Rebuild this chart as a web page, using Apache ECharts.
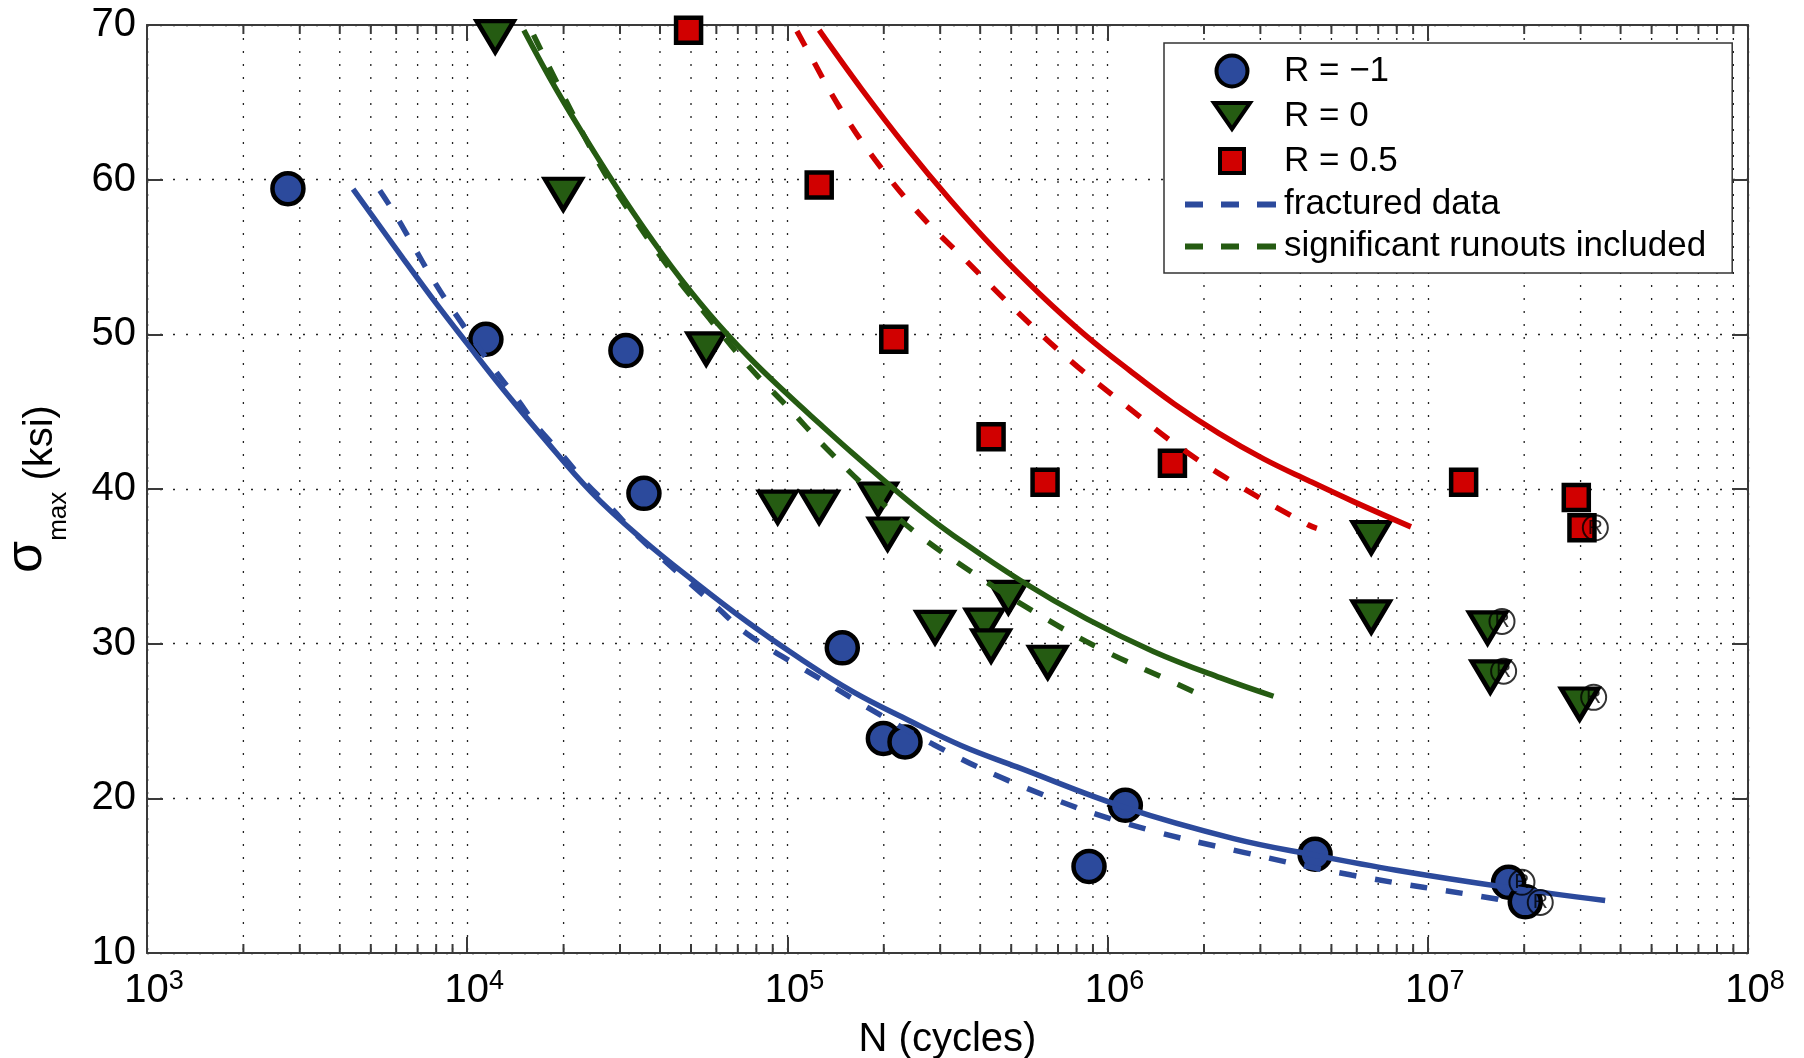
<!DOCTYPE html>
<html lang="en">
<head>
    <meta charset="UTF-8">
    <title>S-N curves</title>
    <script src="https://cdn.jsdelivr.net/npm/echarts@6/dist/echarts.min.js"></script>
    <style>
        *{
            margin: 0;
            padding: 0;
        }
        html,body{
            width: 100%;
            height: 100%;
            overflow: hidden;
            background: #fff;
        }
        .container{
            width: 1804px;
            height: 1058px;
        }
    </style>
</head>
<body>
<div class="container"></div>
<script>
    const FONT = 'Liberation Sans, Arial, Helvetica, sans-serif'

    // axis ranges
    const xMin = 1e3, xMax = 1e8
    const yTicks = [10, 20, 30, 40, 50, 60, 70]

    // R = -1 specimens
    const circleN = [2755, 11440, 31310, 35640, 148400, 199400, 233000, 874900, 1136000, 4446000, 17880000, 20160000]
    const circleS = [59.42, 49.68, 48.95, 39.72, 29.73, 23.87, 23.65, 15.6, 19.55, 16.38, 14.57, 13.31]
    // R = 0 specimens
    const triN = [12230, 19960, 55770, 93250, 125600, 191900, 205600, 289100, 412400, 432600, 489900, 650400, 6658000, 6658000, 15370000, 15670000, 29800000]
    const triS = [69.25, 59.06, 49.06, 38.83, 38.83, 39.35, 37.09, 31.05, 31.2, 29.86, 32.99, 28.8, 36.86, 31.73, 31.02, 27.85, 26.1]
    // R = 0.5 specimens
    const sqN = [49130, 125700, 214900, 432600, 637800, 1594000, 12940000, 29090000, 30300000]
    const sqS = [69.66, 59.65, 49.68, 43.38, 40.43, 41.66, 40.43, 39.45, 37.49]
    // runout marks
    const runN = [19680000, 22450000, 17050000, 17250000, 32960000, 33360000]
    const runS = [14.57, 13.27, 31.44, 28.22, 26.53, 37.49]

    // fitted curves
    const blueFitN = [4402, 6310, 8000, 10000, 13000, 17000, 24400, 35000, 52070, 75000, 109500, 160000, 238800, 350000, 520800, 1136000, 2477000, 4446000, 7980000, 17410000, 35800000]
    const blueFitS = [59.39, 54.9, 52.0, 49.4, 46.4, 43.5, 39.8, 36.8, 33.9, 31.4, 29.04, 26.9, 25.05, 23.4, 22.03, 19.4, 17.4, 16.32, 15.35, 14.26, 13.4]
    const blueFracN = [5334, 5970, 6814, 7771, 8933, 12140, 14260, 16540, 19710, 23430, 28250, 33810, 60120, 74600, 109500, 284700, 562800, 1168000, 2658000, 5773000, 16220000, 17080000]
    const blueFracS = [59.3, 57.73, 55.67, 53.63, 51.69, 47.74, 45.87, 44.03, 42.26, 40.4, 38.75, 37.02, 32.38, 30.66, 28.5, 23.5, 20.63, 18.32, 16.51, 15.04, 13.51, 13.4]
    const greenFitN = [15030, 18990, 25010, 32950, 43400, 57140, 75240, 99130, 126400, 160000, 204300, 260000, 329800, 532900, 861000, 1390000, 2246000, 3297000]
    const greenFitS = [69.66, 65.82, 61.73, 57.89, 54.4, 51.3, 48.6, 46.2, 44.2, 42.3, 40.4, 38.6, 37.0, 34.1, 31.6, 29.5, 27.8, 26.6]
    const greenRunN = [16110, 25010, 32950, 43400, 57140, 75240, 99130, 132700, 180000, 247400, 379300, 589600, 936400, 1494000, 2017000]
    const greenRunS = [69.36, 61.55, 57.6, 54.1, 51.0, 48.0, 45.4, 42.6, 39.9, 37.3, 34.58, 32.06, 29.73, 27.79, 26.56]
    const redFitN = [125700, 170500, 235200, 324200, 446800, 616400, 849600, 1172000, 1615000, 2227000, 3072000, 4234000, 5839000, 8860000]
    const redFitS = [69.67, 65.86, 62.1, 58.64, 55.46, 52.58, 49.97, 47.66, 45.5, 43.6, 41.95, 40.55, 39.2, 37.55]
    const redFracN = [107100, 116000, 145300, 187700, 258800, 356900, 524900, 771500, 1172000, 1726000, 2657000, 4242000, 4503000]
    const redFracS = [69.6, 68.3, 64.7, 61.3, 57.77, 54.88, 51.42, 48.24, 45.2, 42.52, 40.04, 37.67, 37.45]

    const BLUE = '#2c4a9c'
    const GREEN = '#255b12'
    const RED = '#d10000'
    const AXIS = '#3a3a3a'
    const DASH = [17, 19]

    // legend icons, drawn in a 94 x 34 box (corner points keep the box size)
    const BOX = 'M0,0L0,0M94,34L94,34'
    const ICON_CIRCLE = 'path://' + BOX + 'M62.5,17A15.5,15.5,0,1,1,31.5,17A15.5,15.5,0,1,1,62.5,17Z'
    const ICON_TRI = 'path://' + BOX + 'M29,4L65,4L47,30Z'
    const ICON_SQ = 'path://' + BOX + 'M35,5L59,5L59,29L35,29Z'
    const ICON_DASH = 'path://' + BOX + 'M0,14h18v6h-18zM36,14h18v6h-18zM72,14h19v6h-19z'

    function pairs(xs, ys) {
        return xs.map((x, i) => [x, ys[i]])
    }

    // minor log ticks 2..9 x 10^k
    let minorTicks = []
    for (let d = Math.log10(xMin); d < Math.log10(xMax); d++) {
        for (let k = 2; k <= 9; k++) {
            minorTicks.push(k * Math.pow(10, d))
        }
    }

    window.onload = function () {
        let chart = echarts.init(document.querySelector('.container'))

        function fitLine(name, xs, ys, color, type) {
            return {
                name: name,
                type: 'line',
                data: pairs(xs, ys),
                symbol: 'none',
                showSymbol: false,
                smooth: 0.4,
                z: 4,
                itemStyle: {color: color},
                lineStyle: {color: color, width: 5.5, type: type, cap: 'butt'},
                emphasis: {disabled: true}
            }
        }

        let yAxisBase = {
            type: 'value',
            min: yTicks[0],
            max: yTicks[yTicks.length - 1],
            interval: 10,
            axisLine: {show: true, lineStyle: {color: AXIS, width: 2}},
            axisTick: {show: true, inside: true, length: 16, lineStyle: {color: AXIS, width: 2}}
        }
        let xAxisBase = {
            type: 'log',
            logBase: 10,
            min: xMin,
            max: xMax,
            axisLine: {show: true, lineStyle: {color: AXIS, width: 2}},
            axisTick: {show: true, inside: true, length: 16, lineStyle: {color: AXIS, width: 2}}
        }

        let option = {
            animation: false,
            backgroundColor: '#fff',
            textStyle: {fontFamily: FONT},
            grid: {left: 147, right: 56, top: 25, bottom: 105, outerBoundsMode: 'none', containLabel: false},
            xAxis: [
                Object.assign({}, xAxisBase, {
                    position: 'bottom',
                    name: 'N (cycles)',
                    nameLocation: 'middle',
                    nameGap: 56,
                    nameTextStyle: {fontSize: 40, color: '#000', fontFamily: FONT, lineHeight: 48},
                    axisLabel: {
                        margin: 15,
                        padding: [0, 0, 0, 14],
                        formatter: function (v) {
                            return '{b|10}{s|' + Math.round(Math.log10(v)) + '}'
                        },
                        rich: {
                            b: {fontSize: 40, lineHeight: 46, color: '#000', fontFamily: FONT},
                            s: {fontSize: 27, lineHeight: 27, color: '#000', fontFamily: FONT, verticalAlign: 'top'}
                        }
                    },
                    splitLine: {show: true, lineStyle: {color: '#222', width: 1.3, type: [2, 11]}}
                }),
                Object.assign({}, xAxisBase, {
                    position: 'top',
                    axisLabel: {show: false},
                    splitLine: {show: false}
                })
            ],
            yAxis: [
                Object.assign({}, yAxisBase, {
                    position: 'left',
                    name: '{s|σ}{m|max}{k| (ksi)}',
                    nameLocation: 'middle',
                    nameRotate: 90,
                    nameGap: 68,
                    nameTextStyle: {
                        color: '#000',
                        rich: {
                            s: {fontSize: 52, lineHeight: 52, padding: [0, 0, 28, 0], color: '#000', fontFamily: FONT},
                            m: {fontSize: 26, lineHeight: 26, padding: [36, 0, 0, 0], color: '#000', fontFamily: FONT},
                            k: {fontSize: 40, lineHeight: 48, color: '#000', fontFamily: FONT}
                        }
                    },
                    axisLabel: {margin: 11, fontSize: 40, color: '#000', fontFamily: FONT},
                    splitLine: {show: true, lineStyle: {color: '#222', width: 1.3, type: [2, 11]}}
                }),
                Object.assign({}, yAxisBase, {
                    position: 'right',
                    axisLabel: {show: false},
                    splitLine: {show: false}
                })
            ],
            legend: {
                orient: 'vertical',
                left: 1164,
                top: 43,
                data: [
                    {name: 'R = −1', icon: ICON_CIRCLE},
                    {name: 'R = 0', icon: ICON_TRI},
                    {name: 'R = 0.5', icon: ICON_SQ},
                    {name: 'fractured data', icon: ICON_DASH, itemStyle: {borderWidth: 0}},
                    {name: 'significant runouts included', icon: ICON_DASH, itemStyle: {borderWidth: 0}}
                ],
                itemWidth: 94,
                itemHeight: 34,
                itemGap: 7,
                padding: [9, 26, 9, 19],
                backgroundColor: '#fff',
                borderColor: '#333',
                borderWidth: 1.5,
                borderRadius: 0,
                selectedMode: false,
                itemStyle: {borderWidth: 4},
                textStyle: {fontSize: 35, lineHeight: 34, color: '#000', fontFamily: FONT}
            },
            series: [
                {
                    // minor log grid lines and ticks
                    type: 'custom',
                    silent: true,
                    z: 1,
                    data: minorTicks.map(v => [v, yTicks[0]]),
                    renderItem: function (params, api) {
                        let x = api.value(0)
                        let top = api.coord([x, yTicks[yTicks.length - 1]])
                        let bot = api.coord([x, yTicks[0]])
                        return {
                            type: 'group',
                            children: [
                                {type: 'line', shape: {x1: top[0], y1: top[1], x2: bot[0], y2: bot[1]},
                                    style: {stroke: '#222', lineWidth: 1.3, lineDash: [2, 11]}},
                                {type: 'line', shape: {x1: bot[0], y1: bot[1], x2: bot[0], y2: bot[1] - 9},
                                    style: {stroke: AXIS, lineWidth: 2}},
                                {type: 'line', shape: {x1: top[0], y1: top[1], x2: top[0], y2: top[1] + 9},
                                    style: {stroke: AXIS, lineWidth: 2}}
                            ]
                        }
                    }
                },
                {
                    name: 'R = −1',
                    type: 'scatter',
                    data: pairs(circleN, circleS),
                    symbol: 'circle',
                    symbolSize: 31,
                    z: 3,
                    itemStyle: {color: BLUE, borderColor: '#000', borderWidth: 4.5, opacity: 1},
                    emphasis: {disabled: true}
                },
                {
                    name: 'R = 0',
                    type: 'scatter',
                    data: pairs(triN, triS),
                    symbol: 'triangle',
                    symbolRotate: 180,
                    symbolSize: [37, 31],
                    z: 3,
                    itemStyle: {color: GREEN, borderColor: '#000', borderWidth: 4.5, opacity: 1},
                    emphasis: {disabled: true}
                },
                {
                    name: 'R = 0.5',
                    type: 'scatter',
                    data: pairs(sqN, sqS),
                    symbol: 'rect',
                    symbolSize: 25,
                    z: 3,
                    itemStyle: {color: RED, borderColor: '#000', borderWidth: 4.5, opacity: 1},
                    emphasis: {disabled: true}
                },
                fitLine('blue fit', blueFitN, blueFitS, BLUE, 'solid'),
                fitLine('fractured data', blueFracN, blueFracS, BLUE, DASH),
                fitLine('green fit', greenFitN, greenFitS, GREEN, 'solid'),
                fitLine('significant runouts included', greenRunN, greenRunS, GREEN, DASH),
                fitLine('red fit', redFitN, redFitS, RED, 'solid'),
                fitLine('red fractured', redFracN, redFracS, RED, DASH),
                {
                    name: 'runout',
                    type: 'scatter',
                    data: pairs(runN, runS),
                    symbol: 'circle',
                    symbolSize: 25,
                    z: 5,
                    itemStyle: {color: 'rgba(0,0,0,0)', borderColor: '#000', borderWidth: 2},
                    label: {show: true, position: 'inside', formatter: 'R', fontSize: 21, color: '#000', fontFamily: FONT},
                    emphasis: {disabled: true}
                }
            ]
        }

        chart.setOption(option)
    }
</script>
</body>
</html>
